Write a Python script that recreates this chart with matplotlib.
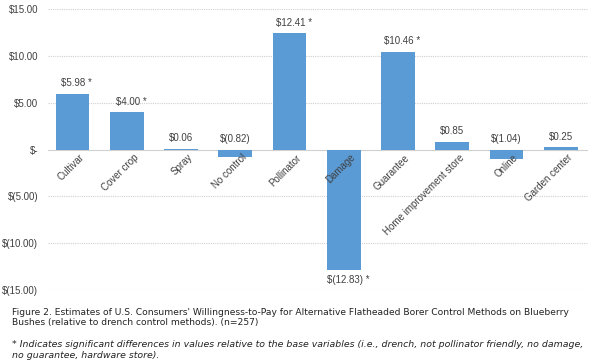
import matplotlib
matplotlib.use("Agg")
import matplotlib.pyplot as plt
import numpy as np

categories = ["Cultivar", "Cover crop", "Spray", "No control", "Pollinator", "Damage",
              "Guarantee", "Home improvement store", "Online", "Garden center"]
values = [5.98, 4.00, 0.06, -0.82, 12.41, -12.83, 10.46, 0.85, -1.04, 0.25]
significant = [True, True, False, False, True, True, True, False, False, False]
yticks = [15, 10, 5, 0, -5, -10, -15]
ytick_labels = ["$15.00", "$10.00", "$5.00", "$-", "$(5.00)", "$(10.00)", "$(15.00)"]

caption_lines = ["Figure 2. Estimates of U.S. Consumers' Willingness-to-Pay for Alternative Flatheaded Borer Control Methods on Blueberry",
                 "Bushes (relative to drench control methods). (n=257)"]
note_lines = ["* Indicates significant differences in values relative to the base variables (i.e., drench, not pollinator friendly, no damage,",
              "no guarantee, hardware store)."]

def fmt(v):
    return f"${v:.2f}" if v >= 0 else f"$({-v:.2f})"

plt.rcParams['font.family'] = ['Liberation Sans', 'DejaVu Sans']
fig = plt.figure(figsize=(6, 3.64), dpi=100)
ax = fig.add_axes([0.08, 0.203, 0.9, 0.772])
bar_color = "#5B9BD5"
text_color = "#404040"
x = np.arange(len(categories))
ax.bar(x, values, width=0.62, color=bar_color, zorder=3)
ax.set_xlim(-0.45, len(categories) - 0.5)
ax.set_ylim(-15, 15)
ax.set_yticks(yticks)
ax.set_yticklabels(ytick_labels, fontsize=7, color=text_color)
ax.tick_params(axis='y', length=0, pad=7)
ax.set_xticks([])
for s in ax.spines.values():
    s.set_visible(False)
for t in yticks:
    ax.axhline(t, color="#d0d0d0", lw=0.8, ls=(0, (1, 1)) if t != 0 else '-', zorder=1)

for i, (v, sig) in enumerate(zip(values, significant)):
    lab = fmt(v) + (" *" if sig else "")
    if v == min(values):
        ax.text(i + 0.08, v - 0.6, lab, ha='center', va='top', fontsize=7, color=text_color)
    else:
        ax.text(i + (0.08 if sig else 0), max(v, 0) + 0.6, lab, ha='center', va='bottom',
                fontsize=7, color=text_color)
    ax.text(i + 0.12, -0.3, categories[i], rotation=45, ha='right', va='top',
            fontsize=7, color=text_color, rotation_mode='anchor', zorder=4)

for line, yb in zip(caption_lines, [315, 325.5]):
    fig.text(0.02, 1 - yb / 364, line, fontsize=6.55, color="#222222", va='baseline',
             ha='left', family='DejaVu Sans')
for line, yb in zip(note_lines, [347, 358]):
    fig.text(0.02, 1 - yb / 364, line, fontsize=6.75, color="#222222", va='baseline',
             ha='left', family='DejaVu Sans', style='italic')
fig.savefig("out.png", dpi=100)
